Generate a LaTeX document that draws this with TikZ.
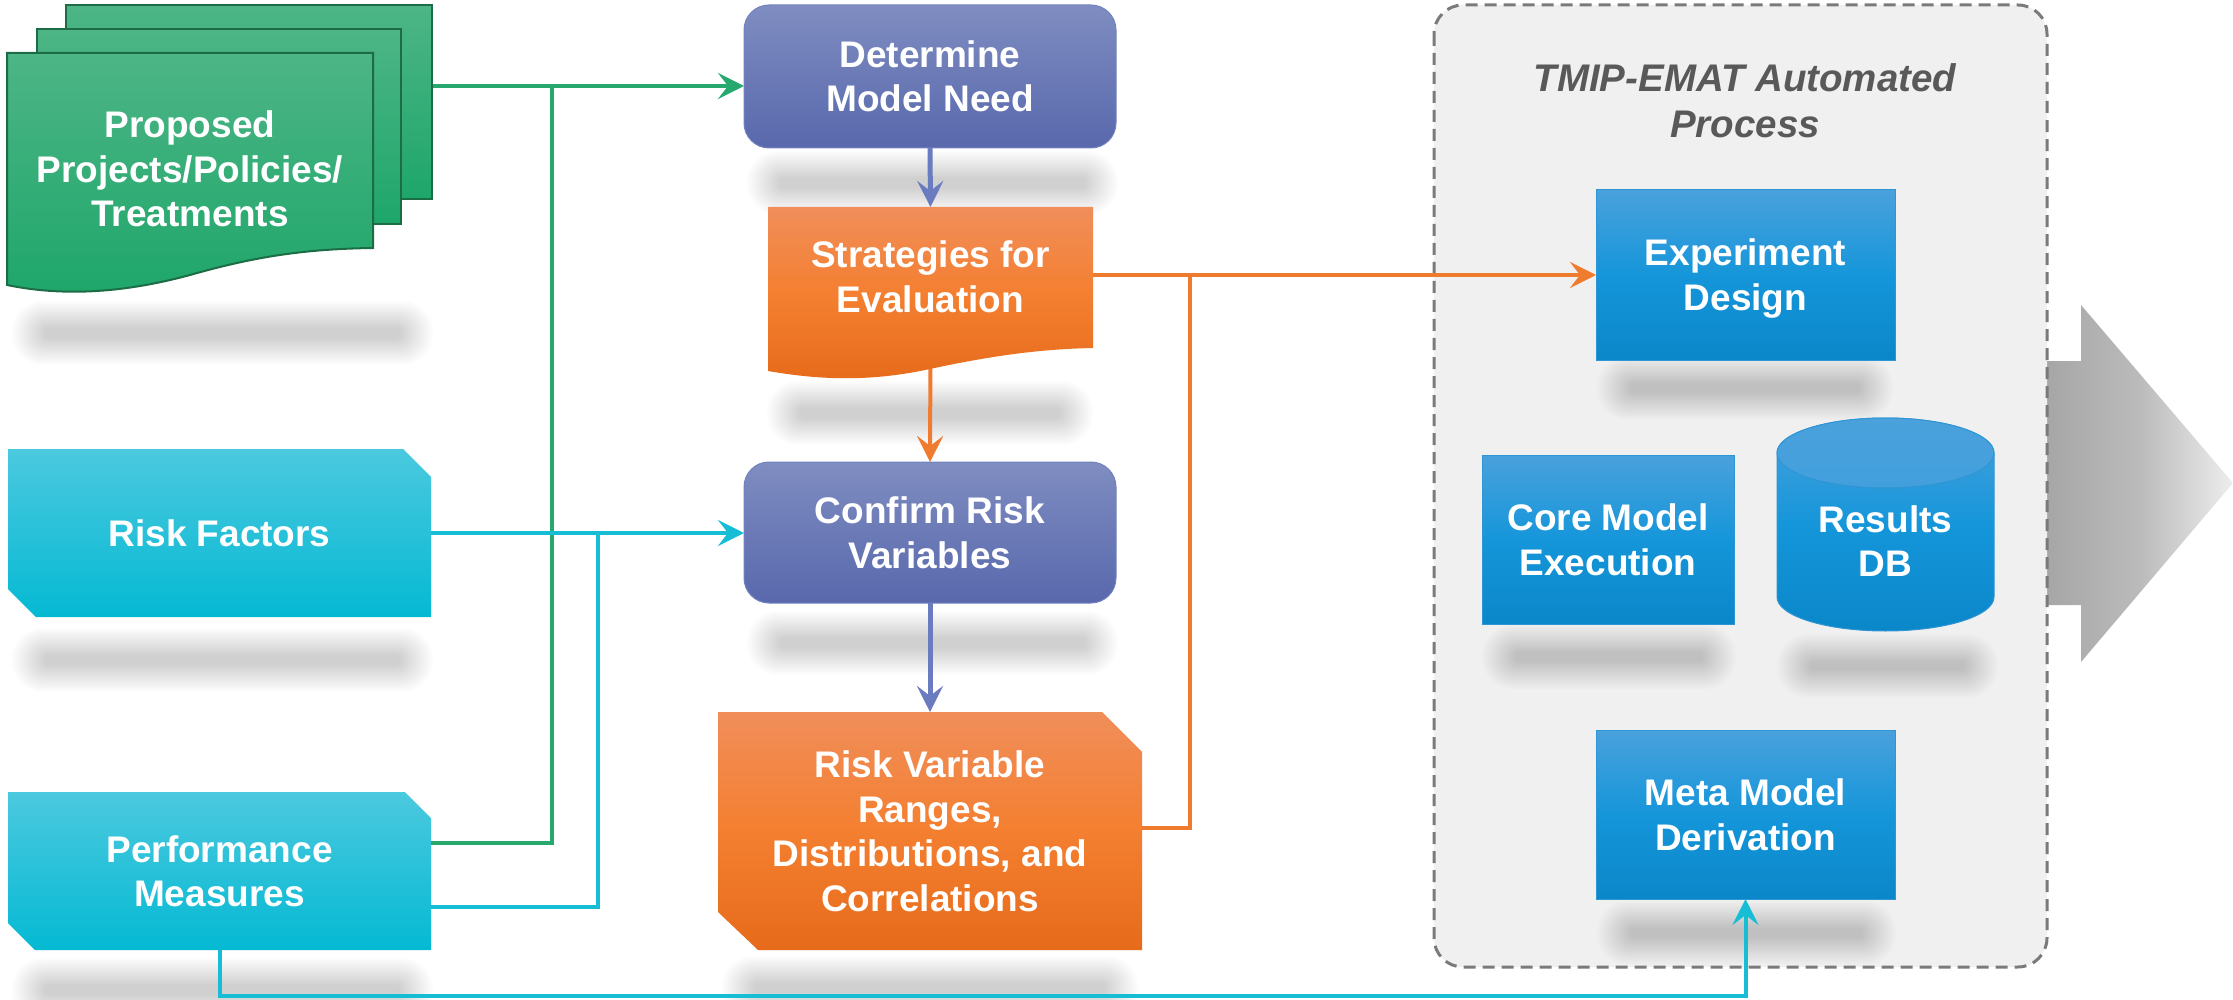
\documentclass[tikz,border=0pt]{standalone}
\usepackage{fontspec}
\setmainfont{Liberation Sans}
\usetikzlibrary{arrows.meta}

% palette
\definecolor{cGreenA}{HTML}{4DB586}
\definecolor{cGreenB}{HTML}{1EA66A}
\definecolor{cGreenE}{HTML}{1C6D46}
\definecolor{cGreenLn}{HTML}{27A86F}
\definecolor{cCyanA}{HTML}{4BC9DF}
\definecolor{cCyanB}{HTML}{05B9D3}
\definecolor{cCyanLn}{HTML}{17BDD4}
\definecolor{cPurA}{HTML}{7F8DC1}
\definecolor{cPurB}{HTML}{5868AC}
\definecolor{cPurE}{HTML}{7282C0}
\definecolor{cPurLn}{HTML}{6B7BBF}
\definecolor{cOrgA}{HTML}{F08E5A}
\definecolor{cOrgM}{HTML}{F47F30}
\definecolor{cOrgB}{HTML}{E66B1B}
\definecolor{cOrgLn}{HTML}{EF7B2F}
\definecolor{cBluA}{HTML}{4AA1DC}
\definecolor{cBluM}{HTML}{1596DA}
\definecolor{cBluB}{HTML}{0A87C9}
\definecolor{cBluE}{HTML}{2F95D4}
\definecolor{cPanel}{HTML}{F0F0F0}
\definecolor{cDash}{HTML}{7A7A7A}
\definecolor{cTitle}{HTML}{595959}
\definecolor{cArrA}{HTML}{A6A6A6}
\definecolor{cArrM}{HTML}{BBBBBB}
\definecolor{cArrB}{HTML}{EDEDED}

\pgfdeclarelayer{bg}
\pgfdeclarelayer{wires}
\pgfsetlayers{bg,wires,main}

% line struts so every text line has the same height and depth
\newcommand{\Ls}{\rule[-9pt]{0pt}{44.5pt}}
\newcommand{\Lt}{\rule[-9.2pt]{0pt}{46pt}}
\newcommand{\boxfont}{\fontsize{37}{44.5}\selectfont\bfseries}
\newcommand{\titlefont}{\fontsize{38.5}{46}\selectfont\bfseries\itshape}

% soft grey shadow bar below a box: left x, right x, centre y
\newcommand{\softshadow}[3]{%
  \foreach \k [evaluate=\k as \rr using {31-1.8*\k},
               evaluate=\k as \hh using {32-1.8*\k},
               evaluate=\k as \dx using {-8+2.2*\k}] in {0,...,15}{%
    \fill[black, opacity=0.011, rounded corners=\rr pt]
      ({#1+\dx},{#3-\hh}) rectangle ({#2-\dx},{#3+\hh});
  }}

\begin{document}
\begin{tikzpicture}[x=1pt, y=-1pt,
  lbl/.style={font=\boxfont, text=white, align=center, inner sep=0pt, outer sep=0pt},
  wire/.style={line width=4pt},
  wirethick/.style={line width=5pt},
  arr/.style={-{Stealth[length=26pt,width=26pt,inset=10pt]}},
  card/.style={draw=cGreenE, line width=2pt, top color=cGreenA, bottom color=cGreenB,
               inner sep=0pt, outer sep=0pt},
  procbox/.style={lbl, rounded corners=25pt, top color=cPurA, bottom color=cPurB,
                  draw=cPurE, line width=1pt, minimum width=372pt},
  chip/.style={lbl, top color=cBluA, bottom color=cBluB, middle color=cBluM,
               draw=cBluE, line width=1pt}
]
\useasboundingbox (0,0) rectangle (2233,1000);

% ---------- background: output arrow, automated panel, shadows ----------
\begin{pgfonlayer}{bg}
  \path[left color=cArrA, right color=cArrB, middle color=cArrM]
    (2047,361) -- (2081,361) -- (2081,305) -- (2233,483) -- (2081,662)
    -- (2081,605) -- (2047,605) -- cycle;
  \draw[cDash, fill=cPanel, line width=3pt, dash pattern=on 12pt off 7pt,
        rounded corners=29pt] (1434,5) rectangle (2047,967);
  \softshadow{20}{425}{333}
  \softshadow{20}{425}{660}
  \softshadow{20}{425}{990}
  \softshadow{755}{1110}{183}
  \softshadow{775}{1085}{413}
  \softshadow{755}{1110}{643}
  \softshadow{730}{1130}{988}
  \softshadow{1605}{1885}{388}
  \softshadow{1490}{1728}{657}
  \softshadow{1785}{1990}{666}
  \softshadow{1605}{1888}{933}
\end{pgfonlayer}

% ---------- panel title ----------
\node[font=\titlefont, text=cTitle, align=center, inner sep=0pt] (ttl)
  at (1745,101.2) {\Lt TMIP-EMAT Automated\\\Lt Process};

% ---------- stacked documents ----------
\node[card, minimum width=366pt, minimum height=194pt] (pp3) at (249,102) {};
\node[card, minimum width=364pt, minimum height=195pt] (pp2) at (219,126.5) {};
\draw[cGreenE, line width=2pt, top color=cGreenA, bottom color=cGreenB]
  (7,53) -- (373,53) -- (373,248)
  .. controls (300,249) and (250,258) .. (190,275)
  .. controls (120,294) and (60,296) .. (7,285) -- cycle;
\node[lbl, minimum width=366pt, minimum height=232pt] (pp1) at (190,169)
  {\Ls Proposed\\\Ls Projects/Policies/\\\Ls Treatments};

% ---------- inputs ----------
\path[top color=cCyanA, bottom color=cCyanB]
  (8,449) -- (403,449) -- (431,477) -- (431,617) -- (36,617) -- (8,589) -- cycle;
\node[lbl, minimum width=423pt, minimum height=168pt] (rf) at (219.5,533)
  {\Ls Risk Factors};
\path[top color=cCyanA, bottom color=cCyanB]
  (8,792) -- (405,792) -- (431,818) -- (431,950) -- (35,950) -- (8,923) -- cycle;
\node[lbl, minimum width=423pt, minimum height=158pt] (pm) at (219.5,871)
  {\Ls Performance\\\Ls Measures};

% ---------- process column ----------
\node[procbox, minimum height=143pt] (det) at (930,76.5)
  {\Ls Determine\\\Ls Model Need};
\path[top color=cOrgA, bottom color=cOrgB, middle color=cOrgM]
  (768,207) -- (1093,207) -- (1093,348)
  .. controls (1040,349) and (990,356) .. (930,369)
  .. controls (870,382) and (820,380) .. (768,371) -- cycle;
\node[lbl, minimum width=325pt, minimum height=140pt] (strat) at (930.5,277)
  {\Ls Strategies for\\\Ls Evaluation};
\node[procbox, minimum height=141pt] (conf) at (930,532.5)
  {\Ls Confirm Risk\\\Ls Variables};
\path[top color=cOrgA, bottom color=cOrgB, middle color=cOrgM]
  (718,712) -- (1102,712) -- (1142,752) -- (1142,950) -- (758,950) -- (718,912) -- cycle;
\node[lbl, minimum width=424pt, minimum height=238pt] (rvr) at (930,831)
  {\Ls Risk Variable\\\Ls Ranges,\\\Ls Distributions, and\\\Ls Correlations};

% ---------- automated process ----------
\node[chip, minimum width=299pt, minimum height=170pt] (exp) at (1745.5,275)
  {\Ls Experiment\\\Ls Design};
\node[chip, minimum width=252pt, minimum height=169pt] (core) at (1608,539.5)
  {\Ls Core Model\\\Ls Execution};
\draw[cBluE, line width=1pt, top color=cBluA, bottom color=cBluB, middle color=cBluM]
  (1777,453) -- (1777,597) arc[start angle=180, end angle=0, x radius=108.5, y radius=34]
  -- (1994,453) arc[start angle=0, end angle=-180, x radius=108.5, y radius=35] -- cycle;
\draw[cBluE, line width=1pt, top color=cBluA, bottom color=cBluA!85!cBluM]
  (1885.5,453) ellipse[x radius=108.5, y radius=35];
\node[lbl, minimum width=217pt, minimum height=180pt] (res) at (1885.5,541)
  {\Ls Results\\\Ls DB};
\node[chip, minimum width=299pt, minimum height=169pt] (meta) at (1745.5,814.5)
  {\Ls Meta Model\\\Ls Derivation};

% ---------- connectors ----------
\coordinate (gtop) at (552,86);
\coordinate (gbot) at (552,843);
\coordinate (ctop) at (598,533);
\coordinate (cbot) at (598,907);
\coordinate (otop) at (1190,275);
\coordinate (obot) at (1190,828);
\coordinate (bus)  at (1745.5,996);

\begin{pgfonlayer}{wires}
  \draw[wire, cGreenLn, arr] (pp3.east |- gtop) -- (det.west |- gtop);
  \draw[wire, cGreenLn] (pm.east |- gbot) -- (gbot) -- (gtop);
  \draw[wire, cCyanLn, arr] (rf.east) -- (conf.west |- rf.east);
  \draw[wire, cCyanLn] (pm.east |- cbot) -- (cbot) -- (ctop);
  \draw[wire, cCyanLn, arr] (pm.south) -- (pm.south |- bus) -- (bus) -- (meta.south);
  \draw[wire, cOrgLn, arr] (strat.east |- exp.west) -- (exp.west);
  \draw[wire, cOrgLn] (otop) -- (obot) -- (rvr.east |- obot);
  \draw[wirethick, cPurLn, arr] (det.south) -- (strat.north);
  \draw[wire, cOrgLn, arr] (strat.south) -- (conf.north);
  \draw[wirethick, cPurLn, arr] (conf.south) -- (rvr.north);
\end{pgfonlayer}
\end{tikzpicture}
\end{document}
